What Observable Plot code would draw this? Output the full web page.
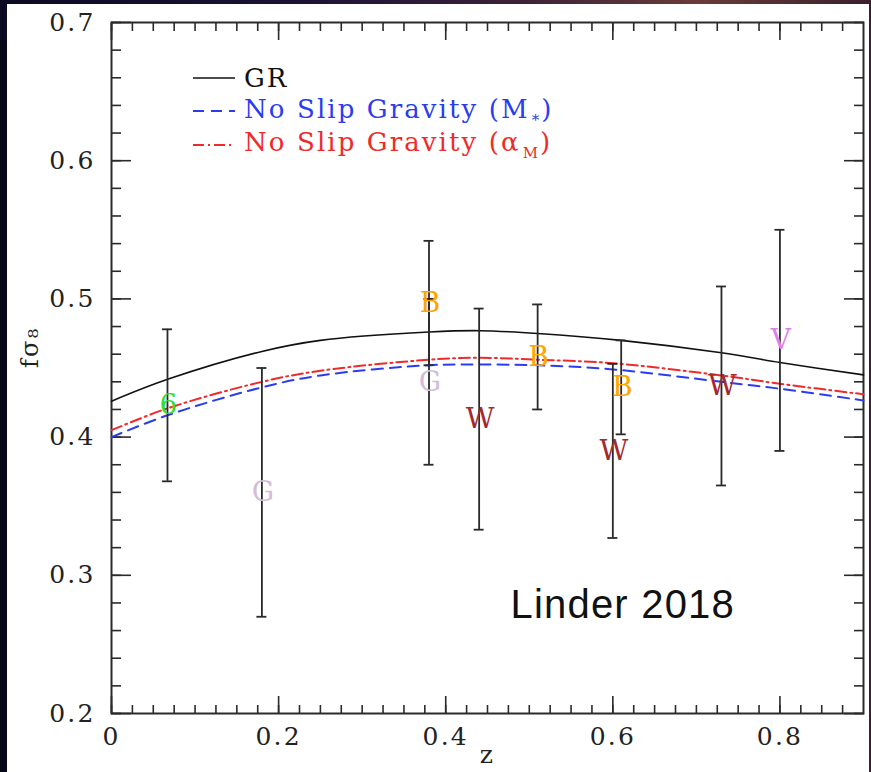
<!DOCTYPE html>
<html>
<head>
<meta charset="utf-8">
<script src="https://cdn.jsdelivr.net/npm/d3@7"></script>
<script src="https://cdn.jsdelivr.net/npm/@observablehq/plot@0.6"></script>
<style>
  html, body { margin: 0; padding: 0; }
  body {
    width: 871px; height: 772px; overflow: hidden;
    background: linear-gradient(90deg, #0b0a22 0%, #1c1236 35%, #3c2238 60%, #6a3b38 80%, #3a1f2e 100%);
  }
  #wrap { position: relative; width: 871px; height: 772px; }
  #paper { position: absolute; left: 7px; top: 4px; width: 862px; height: 768px; background: #fff; }
  #edge { position: absolute; left: 0; top: 40px; width: 7px; height: 732px; background: #070718; }
  #chart { position: absolute; left: 0; top: 0; }
  #chart svg text { letter-spacing: 2.2px; }
  #legend {
    position: absolute; left: 193px; top: 61px;
    font-family: "DejaVu Serif", serif; font-size: 26px; letter-spacing: 2.1px;
  }
  #legend .row { height: 33.5px; display: flex; align-items: center; white-space: nowrap; }
  #legend svg { width: 42px; height: 10px; margin-right: 9px; flex: none; }
  #legend sub { font-size: 15px; vertical-align: -7px; letter-spacing: 0; margin: 0 2px; }
</style>
</head>
<body>
<div id="wrap">
  <div id="edge"></div>
  <div id="paper"></div>
  <div id="chart"></div>
  <div id="legend"></div>
</div>
<script>
// Growth-rate predictions f*sigma_8(z)
const zGR    = [0, 0.068, 0.18, 0.25, 0.38, 0.44, 0.51, 0.61, 0.73, 0.80, 0.90];
const fsGR   = [0.426, 0.442, 0.462, 0.470, 0.476, 0.477, 0.475, 0.470, 0.461, 0.454, 0.445];
const zNS    = [0, 0.068, 0.18, 0.25, 0.38, 0.44, 0.51, 0.60, 0.73, 0.80, 0.90];
const fsNSM  = [0.400, 0.416, 0.436, 0.4446, 0.452, 0.4525, 0.452, 0.449, 0.440, 0.435, 0.4265];
const fsNSa  = [0.405, 0.421, 0.440, 0.448, 0.456, 0.4574, 0.456, 0.4535, 0.4446, 0.4386, 0.431];

// Survey measurements: symbol, redshift, value, 1-sigma error
const obsSymbol = ["6", "G", "G", "B", "W", "B", "W", "B", "W", "V"];
const obsZ      = [0.067, 0.18, 0.38, 0.38, 0.44, 0.51, 0.60, 0.61, 0.73, 0.80];
const obsFs     = [0.423, 0.36, 0.44, 0.497, 0.413, 0.458, 0.390, 0.436, 0.437, 0.47];
const obsErr    = [0.055, 0.09, 0.06, 0.045, 0.080, 0.038, 0.063, 0.034, 0.072, 0.08];
const symbolColor = {"6": "#2fdc2f", "G": "#d3bdd9", "B": "#ffa500", "W": "#a22a2e", "V": "#df7fec"};

const xMajor = [0, 0.2, 0.4, 0.6, 0.8];
const xMinor = d3.range(0, 36).map(i => +(i * 0.025).toFixed(3));
const yMajor = [0.2, 0.3, 0.4, 0.5, 0.6, 0.7];
const yMinor = d3.range(0, 26).map(i => +(0.2 + i * 0.02).toFixed(2));

const curves = [
  ...zGR.map((z, i) => ({model: "GR", z, fs: fsGR[i]})),
  ...zNS.map((z, i) => ({model: "M", z, fs: fsNSM[i]})),
  ...zNS.map((z, i) => ({model: "a", z, fs: fsNSa[i]}))
];
const obs = obsSymbol.map((s, i) => ({
  s, z: obsZ[i], fs: obsFs[i], lo: obsFs[i] - obsErr[i], hi: obsFs[i] + obsErr[i]
}));

const serif = "DejaVu Serif";
const ink = "#2a2a2a";
const fmt = d => String(d);
const blank = () => "";

const plot = Plot.plot({
  width: 871,
  height: 772,
  marginLeft: 111,
  marginRight: 8,
  marginTop: 22,
  marginBottom: 59,
  style: {background: "transparent", fontFamily: serif, color: "#111", overflow: "visible"},
  x: {domain: [0, 0.9]},
  y: {domain: [0.2, 0.7]},
  marks: [
    // inward ticks on all four sides
    Plot.axisX(xMinor, {anchor: "bottom", tickSize: 8, dy: -8, tickFormat: blank, label: null, stroke: ink, strokeWidth: 1.6}),
    Plot.axisX(xMinor, {anchor: "top", tickSize: 8, dy: 8, tickFormat: blank, label: null, stroke: ink, strokeWidth: 1.6}),
    Plot.axisX(xMajor, {anchor: "bottom", tickSize: 17, dy: -17, tickFormat: blank, label: null, stroke: ink, strokeWidth: 1.6}),
    Plot.axisX(xMajor, {anchor: "top", tickSize: 17, dy: 17, tickFormat: blank, label: null, stroke: ink, strokeWidth: 1.6}),
    Plot.axisY(yMinor, {anchor: "left", tickSize: 10, dx: 10, tickFormat: blank, label: null, stroke: ink, strokeWidth: 1.6}),
    Plot.axisY(yMinor, {anchor: "right", tickSize: 10, dx: -10, tickFormat: blank, label: null, stroke: ink, strokeWidth: 1.6}),
    Plot.axisY(yMajor, {anchor: "left", tickSize: 20, dx: 20, tickFormat: blank, label: null, stroke: ink, strokeWidth: 1.6}),
    Plot.axisY(yMajor, {anchor: "right", tickSize: 20, dx: -20, tickFormat: blank, label: null, stroke: ink, strokeWidth: 1.6}),
    // tick labels
    Plot.axisX(xMajor, {anchor: "bottom", tickSize: 0, tickPadding: 14, tickFormat: fmt, label: null, fontSize: 25, fontFamily: serif, fill: "#222"}),
    Plot.axisY(yMajor, {anchor: "left", tickSize: 0, tickPadding: 16, tickFormat: fmt, label: null, fontSize: 25, fontFamily: serif, fill: "#222"}),
    Plot.frame({stroke: ink, strokeWidth: 2}),
    // axis titles
    Plot.text(["z"], {frameAnchor: "bottom", dy: 49, fontSize: 25, fontFamily: serif, fill: "#222"}),
    Plot.text(["fσ₈"], {frameAnchor: "left", dx: -81, rotate: -90, fontSize: 24, fontFamily: serif, fill: "#222"}),
    // model curves
    Plot.line(curves.filter(d => d.model === "GR"), {x: "z", y: "fs", stroke: "#111", strokeWidth: 1.6, curve: "catmull-rom"}),
    Plot.line(curves.filter(d => d.model === "M"), {x: "z", y: "fs", stroke: "#2b3cf0", strokeWidth: 2, strokeDasharray: "11,7", curve: "catmull-rom"}),
    Plot.line(curves.filter(d => d.model === "a"), {x: "z", y: "fs", stroke: "#f02a2a", strokeWidth: 2, strokeDasharray: "11,4,2,4", curve: "catmull-rom"}),
    // error bars with caps
    Plot.ruleX(obs, {x: "z", y1: "lo", y2: "hi", stroke: ink, strokeWidth: 1.8}),
    Plot.ruleY(obs, {y: "hi", x1: "z", x2: "z", insetLeft: -5, insetRight: -5, stroke: ink, strokeWidth: 1.8}),
    Plot.ruleY(obs, {y: "lo", x1: "z", x2: "z", insetLeft: -5, insetRight: -5, stroke: ink, strokeWidth: 1.8}),
    // survey symbols
    Plot.text(obs, {x: "z", y: "fs", text: "s", fill: d => symbolColor[d.s], fontSize: 28, fontFamily: serif, lineAnchor: "middle", dx: 1}),
    // citation
    Plot.text(["Linder 2018"], {frameAnchor: "bottom-right", textAnchor: "start", dx: -353, dy: -96, fontSize: 40, fontFamily: "Liberation Sans", fill: "#111"})
  ]
});

document.getElementById("chart").appendChild(plot);
d3.select(plot).selectAll("text").filter(function() { return this.textContent === "Linder 2018"; })
  .style("letter-spacing", "1.2px");
d3.select(plot).selectAll("text").filter(function() { return obsSymbol.includes(this.textContent); })
  .style("letter-spacing", "0px");

// legend
const legendRows = [
  {color: "#111", dash: null, label: "GR", sub: null, width: 1.6},
  {color: "#2b3cf0", dash: "11,7", label: "No Slip Gravity (M", sub: "*", width: 2},
  {color: "#f02a2a", dash: "11,4,2,4", label: "No Slip Gravity (α", sub: "M", width: 2}
];
const legend = d3.select("#legend");
for (const r of legendRows) {
  const row = legend.append("div").attr("class", "row").style("color", r.color);
  const sw = row.append("svg").attr("viewBox", "0 0 42 10");
  sw.append("line").attr("x1", 0).attr("x2", 42).attr("y1", 5).attr("y2", 5)
    .attr("stroke", r.color).attr("stroke-width", r.width).attr("stroke-dasharray", r.dash);
  const span = row.append("span");
  span.append("span").text(r.label);
  if (r.sub) {
    span.append("sub").text(r.sub);
    span.append("span").text(")");
  }
}
</script>
</body>
</html>
